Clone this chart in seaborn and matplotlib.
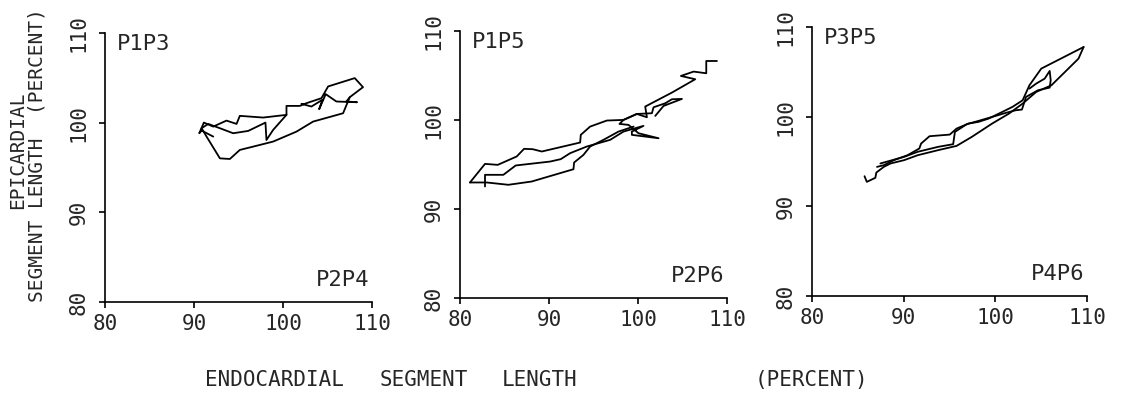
import numpy as np
import pandas as pd
import matplotlib
matplotlib.use("Agg")
import matplotlib.pyplot as plt
import seaborn as sns

# ---------------- data (percent of control length) ----------------
TICKS = [80, 90, 100, 110]
TICK_LABELS = ["80", "90", "100", "110"]
PANEL_TOP = ["P1P3", "P1P5", "P3P5"]
PANEL_BOTTOM = ["P2P4", "P2P6", "P4P6"]

P1_A_X = [92.16, 90.85, 90.59, 91.11, 92.16, 93.65, 94.78, 95.15, 97.77, 100.39, 100.39, 101.89, 102.63,
          104.32, 105.07, 108.06, 108.99, 107.50, 107.12, 108.32, 106.00, 104.80, 104.06, 104.43, 103.19, 102.07]
P1_A_Y = [98.45, 99.12, 98.82, 100.01, 99.56, 100.23, 99.86, 100.76, 100.57, 100.87, 101.87, 101.87, 102.17,
          102.73, 104.04, 104.97, 103.96, 102.84, 102.36, 102.28, 102.36, 103.18, 101.50, 102.55, 101.80, 102.10]
P1_B_X = [100.39, 98.89, 98.14, 98.03, 96.09, 94.40, 92.91, 91.60, 90.85]
P1_B_Y = [100.87, 99.19, 98.07, 100.01, 99.08, 98.82, 99.38, 99.86, 99.38]
P1_C_X = [90.85, 91.41, 92.91, 94.03, 95.15, 96.65, 98.89, 101.51, 103.38, 106.75, 107.50]
P1_C_Y = [99.38, 98.45, 96.02, 95.95, 96.96, 97.33, 97.89, 99.00, 100.12, 101.05, 102.84]

P2_A_X = [82.81, 82.81, 84.87, 86.26, 90.12, 91.32, 92.37, 94.25, 96.87, 98.37, 100.62, 99.31, 99.31, 102.31,
          100.06, 98.94, 97.92, 98.37, 99.87, 101.00, 100.81, 103.81, 106.43, 104.82, 106.25, 107.67, 107.67, 108.87]
P2_A_Y = [92.53, 93.84, 93.84, 94.89, 95.33, 95.60, 96.27, 97.02, 97.77, 98.70, 99.34, 98.70, 98.33, 97.95,
          98.51, 99.45, 99.56, 100.01, 100.68, 100.31, 101.51, 103.08, 104.58, 104.95, 105.44, 105.25, 106.63, 106.63]
P2_B_X = [81.12, 82.81, 84.24, 86.37, 87.20, 88.17, 89.19, 93.50, 93.57, 94.62, 96.50, 98.37, 99.87, 101.56,
          101.75, 103.06, 103.81, 104.94, 102.87, 101.94]
P2_B_Y = [92.98, 95.07, 94.96, 95.90, 96.76, 96.72, 96.46, 97.47, 98.33, 99.26, 99.94, 100.01, 100.68, 100.76,
          101.43, 101.88, 102.33, 102.37, 101.58, 100.46]
P2_C_X = [81.12, 83.00, 85.44, 88.06, 92.75, 92.82, 93.87, 94.62, 96.12, 97.81, 99.50]
P2_C_Y = [92.98, 92.98, 92.72, 93.09, 94.47, 95.22, 96.08, 97.02, 97.77, 98.70, 99.26]

P3_A_X = [85.73, 85.98, 86.91, 87.02, 87.83, 88.57, 90.05, 91.53, 93.74, 95.77, 97.44, 99.65, 101.50, 102.98,
          104.46, 106.12, 109.07, 109.63]
P3_A_Y = [93.36, 92.73, 93.18, 93.77, 94.40, 94.78, 95.15, 95.70, 96.26, 96.74, 97.75, 99.23, 100.35, 101.46,
          102.76, 103.50, 106.47, 107.77]
P3_B_X = [109.63, 105.01, 103.72, 102.98, 101.87, 100.76, 99.28, 98.17, 97.07, 95.77, 95.03, 92.82, 91.90,
          91.71, 90.42, 88.94, 87.83, 87.09]
P3_B_Y = [107.77, 105.36, 103.50, 101.83, 101.09, 100.53, 99.79, 99.42, 99.23, 98.67, 98.00, 97.82, 97.00,
          96.45, 95.70, 95.15, 94.59, 94.40]
P3_C_X = [87.46, 90.05, 91.53, 93.74, 95.40, 95.59, 96.88, 98.17, 99.65, 101.13, 102.24, 102.90, 103.35,
          104.64, 105.93, 106.04, 105.93, 105.38, 104.46, 103.72]
P3_C_Y = [94.78, 95.52, 96.08, 96.63, 96.93, 98.30, 99.16, 99.53, 99.97, 100.42, 100.72, 100.79, 102.20,
          102.94, 103.24, 104.06, 105.10, 104.24, 103.69, 103.13]

PANELS = [
    [(P1_A_X, P1_A_Y), (P1_B_X, P1_B_Y), (P1_C_X, P1_C_Y)],
    [(P2_A_X, P2_A_Y), (P2_B_X, P2_B_Y), (P2_C_X, P2_C_Y)],
    [(P3_A_X, P3_A_Y), (P3_B_X, P3_B_Y), (P3_C_X, P3_C_Y)],
]

# ---------------- style ----------------
sns.set_theme(style="ticks")
plt.rcParams["font.family"] = ["DejaVu Sans Mono", "DejaVu Sans"]
plt.rcParams["axes.linewidth"] = 1.2

W, H = 1123, 396
fig = plt.figure(figsize=(W / 100, H / 100), dpi=100)
fig.patch.set_facecolor("white")

# axes boxes in pixels: left, right(x=110), top(y=110), bottom(y=80)
BOXES = [(105, 372, 33, 302), (460, 727, 31, 298), (812, 1087, 27, 296)]

for i, (segs, (l, r, t, b)) in enumerate(zip(PANELS, BOXES)):
    ax = fig.add_axes([l / W, 1 - b / H, (r - l) / W, (b - t) / H])
    ax.set_facecolor("white")
    rows = []
    for k, (xs, ys) in enumerate(segs):
        for j, (x, y) in enumerate(zip(xs, ys)):
            rows.append({"endo": x, "epi": y, "seg": k, "order": j})
    df = pd.DataFrame(rows)
    sns.lineplot(data=df, x="endo", y="epi", units="seg", estimator=None, sort=False,
                 color="black", linewidth=1.3, ax=ax, legend=False)
    ax.set_xlim(80, 110)
    ax.set_ylim(80, 110)
    ax.set_xticks(TICKS)
    ax.set_yticks(TICKS)
    ax.set_xticklabels(TICK_LABELS, fontsize=15)
    ax.set_yticklabels(TICK_LABELS, fontsize=15, rotation=90, va="center")
    ax.tick_params(axis="both", direction="out", length=4, width=1.2, color="black")
    ax.tick_params(axis="x", pad=5)
    ax.tick_params(axis="y", pad=8)
    ax.set_xlabel("")
    ax.set_ylabel("")
    sns.despine(ax=ax)
    for s in ("left", "bottom"):
        ax.spines[s].set_color("black")
    ax.text(0.045, 0.995, PANEL_TOP[i], transform=ax.transAxes, ha="left", va="top", fontsize=16)
    ax.text(0.99, 0.045, PANEL_BOTTOM[i], transform=ax.transAxes, ha="right", va="bottom", fontsize=16)

# shared axis titles
XWORDS = ["ENDOCARDIAL", "SEGMENT", "LENGTH", "(PERCENT)"]
XPOS = [205, 380, 502, 755]
for w, px in zip(XWORDS, XPOS):
    fig.text(px / W, 1 - 380 / H, w, ha="left", va="center", fontsize=15)

fig.text(18 / W, 1 - 150 / H, "EPICARDIAL", rotation=90, ha="center", va="center", fontsize=14)
fig.text(37 / W, 1 - 155 / H, "SEGMENT LENGTH  (PERCENT)", rotation=90, ha="center", va="center", fontsize=14)

fig.savefig("out.png", dpi=100, facecolor="white")
